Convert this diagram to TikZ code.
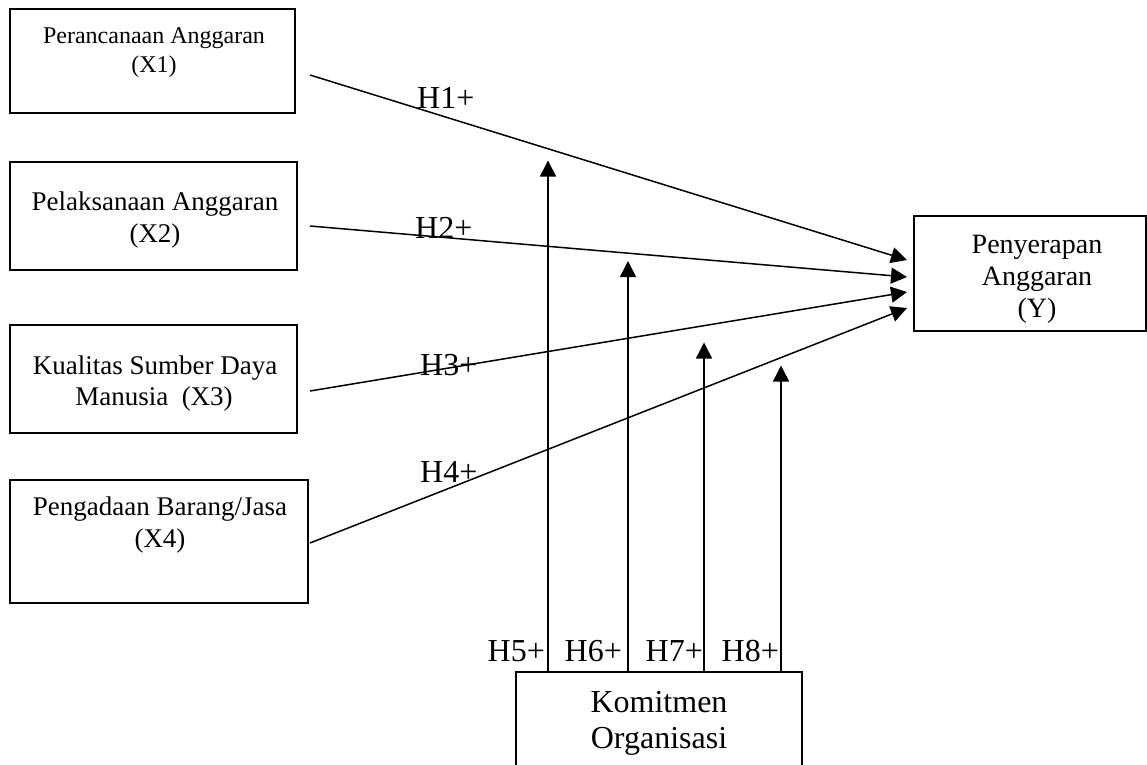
\documentclass[tikz,border=0pt]{standalone}
\usepackage{fontspec}
\setmainfont{Liberation Serif}
\usetikzlibrary{arrows.meta}
\tikzset{
  box/.style={draw, line width=2.6pt, inner sep=0pt},
  conn/.style={line width=1.5pt, -{Triangle[length=16pt,width=16pt]}},
  txt/.style={inner sep=0pt, anchor=base},
  hlab/.style={inner sep=0pt, font=\fontsize{32}{36}\selectfont},
}
\begin{document}
\begin{tikzpicture}[x=1pt,y=-1pt]
\clip (0,0) rectangle (1147,764);
\fill[white] (0,0) rectangle (1147,764);
% boxes
\node[box, minimum width=285pt, minimum height=104pt] (x1) at (152.5,61) {};
\node[box, minimum width=287pt, minimum height=108pt] (x2) at (153.5,216) {};
\node[box, minimum width=287pt, minimum height=108pt] (x3) at (153.5,379) {};
\node[box, minimum width=298pt, minimum height=123pt] (x4) at (159,541.5) {};
\node[box, minimum width=232pt, minimum height=115pt] (y) at (1030,273.5) {};
\node[box, minimum width=286pt, minimum height=118pt] (k) at (659,731) {};
% box texts
\node[txt, font=\fontsize{24}{28}\selectfont] (x1a) at (154,43) {Perancanaan Anggaran};
\node[txt, font=\fontsize{24}{28}\selectfont] (x1b) at (154,72) {(X1)};
\node[txt, font=\fontsize{27}{32}\selectfont] (x2a) at (155,210) {Pelaksanaan Anggaran};
\node[txt, font=\fontsize{27}{32}\selectfont] (x2b) at (155,242) {(X2)};
\node[txt, font=\fontsize{27}{32}\selectfont] (x3a) at (155,374) {Kualitas Sumber Daya};
\node[txt, font=\fontsize{27}{32}\selectfont] (x3b) at (154,405) {Manusia\ \ (X3)};
\node[txt, font=\fontsize{27}{32}\selectfont] (x4a) at (160,515) {Pengadaan Barang/Jasa};
\node[txt, font=\fontsize{27}{32}\selectfont] (x4b) at (160,547) {(X4)};
\node[txt, font=\fontsize{28}{32}\selectfont] (ya) at (1037,253) {Penyerapan};
\node[txt, font=\fontsize{28}{32}\selectfont] (yb) at (1037,285) {Anggaran};
\node[txt, font=\fontsize{28}{32}\selectfont] (yc) at (1037,317) {(Y)};
\node[txt, font=\fontsize{32}{36}\selectfont] (ka) at (659,712) {Komitmen};
\node[txt, font=\fontsize{32}{36}\selectfont] (kb) at (659,748) {Organisasi};
% connector end points
\coordinate (s1) at (310,75);
\coordinate (s2) at (310,226);
\coordinate (s3) at (310,391);
\coordinate (s4) at (310,543);
\coordinate (e1) at (907,260);
\coordinate (e2) at (907,277);
\coordinate (e3) at (907,292);
\coordinate (e4) at (907,308);
\coordinate (b5) at (548,672);
\coordinate (b6) at (628,672);
\coordinate (b7) at (704,672);
\coordinate (b8) at (781,672);
\coordinate (t5) at (548,160.5);
\coordinate (t6) at (628,261);
\coordinate (t7) at (704,342.5);
\coordinate (t8) at (781,365.5);
\draw[conn] (s1) -- (e1);
\draw[conn] (s2) -- (e2);
\draw[conn] (s3) -- (e3);
\draw[conn] (s4) -- (e4);
\draw[conn] (b5) -- (t5);
\draw[conn] (b6) -- (t6);
\draw[conn] (b7) -- (t7);
\draw[conn] (b8) -- (t8);
% hypothesis labels
\node[hlab, anchor=base west] (h1) at (417,108) {H1+};
\node[hlab, anchor=base west] (h2) at (415,238) {H2+};
\node[hlab, anchor=base west] (h3) at (420,375) {H3+};
\node[hlab, anchor=base west] (h4) at (420,482) {H4+};
\node[hlab, anchor=base east] (h5) at (545,661.5) {H5+};
\node[hlab, anchor=base east] (h6) at (622,661.5) {H6+};
\node[hlab, anchor=base east] (h7) at (703,661.5) {H7+};
\node[hlab, anchor=base east] (h8) at (779,661.5) {H8+};
\end{tikzpicture}
\end{document}
